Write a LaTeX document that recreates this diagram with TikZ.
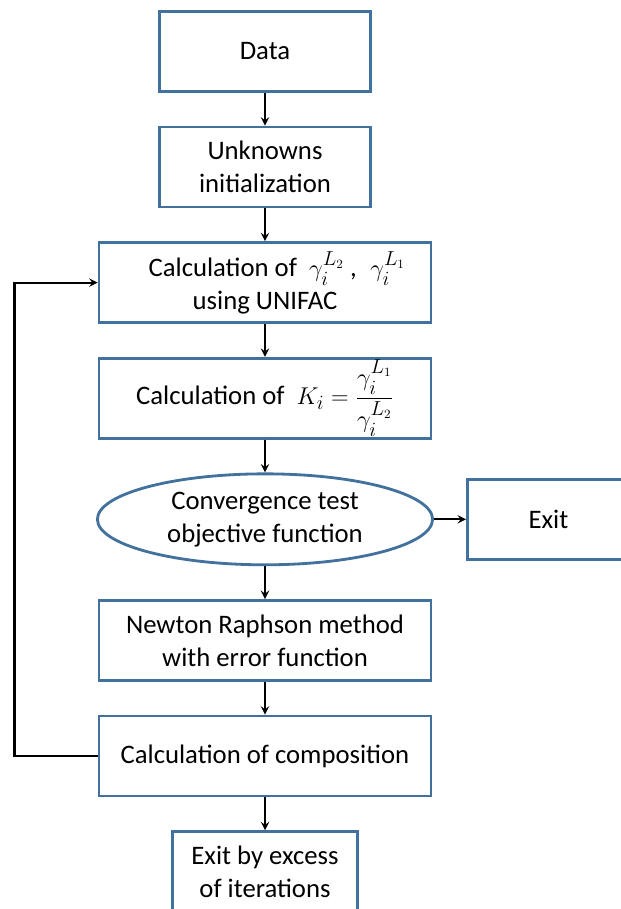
\documentclass[tikz,border=0pt]{standalone}
\usepackage{amsmath,amssymb}
\usepackage{fontspec}
\setmainfont{Carlito}
\usepackage{tikz}
\usetikzlibrary{shapes.geometric,arrows,positioning}
\definecolor{boxblue}{HTML}{41719C}
\tikzstyle{block} = [rectangle, draw=boxblue, line width=2pt, text centered,
    align=center, minimum height=2.0cm, minimum width=8.3cm]
\tikzstyle{oval} = [ellipse, draw=boxblue, line width=2pt, align=center,
    minimum height=2.13cm, minimum width=8.38cm]
\tikzstyle{arrow} = [line width=1.6pt,->,>=stealth]

\begin{document}
\begin{tikzpicture}[node distance=0.82cm, font=\fontsize{19}{23.5}\selectfont]
\useasboundingbox (0,0) rectangle (15.5,-22.725);
\node[block, minimum width=5.28cm] (data) at (6.625,-1.285) {Data};
\node[block, minimum width=5.28cm, below=of data] (init) {Unknowns\\initialization};
\node[block, below=of init] (unifac) {\hspace*{0.6cm}Calculation of~ $\gamma_i^{L_2}$ ,\; $\gamma_i^{L_1}$\\using UNIFAC};
\node[block, inner ysep=0pt, text height=1.1cm, text depth=0.8cm, below=of unifac] (kval)
    {Calculation of~ $K_i=\dfrac{\gamma_i^{L_1}}{\gamma_i^{L_2}}$};
\node[oval, below=of kval] (conv) {Convergence test\\objective function};
\node[block, minimum width=4.05cm, right=0.8cm of conv] (exit) {Exit};
\node[block, below=of conv] (newton) {Newton Raphson method\\with error function};
\node[block, below=of newton] (comp) {Calculation of composition};
\node[block, minimum width=4.62cm, below=of comp] (excess) {Exit by excess\\of iterations};
\draw[arrow] (data) -- (init);
\draw[arrow] (init) -- (unifac);
\draw[arrow] (unifac) -- (kval);
\draw[arrow] (kval) -- (conv);
\draw[arrow] (conv) -- (exit);
\draw[arrow] (conv) -- (newton);
\draw[arrow] (newton) -- (comp);
\draw[arrow] (comp) -- (excess);
% loop back
\draw[arrow] (comp.west) -- ++(-2.075,0) |- (unifac.west);
\end{tikzpicture}
\end{document}
